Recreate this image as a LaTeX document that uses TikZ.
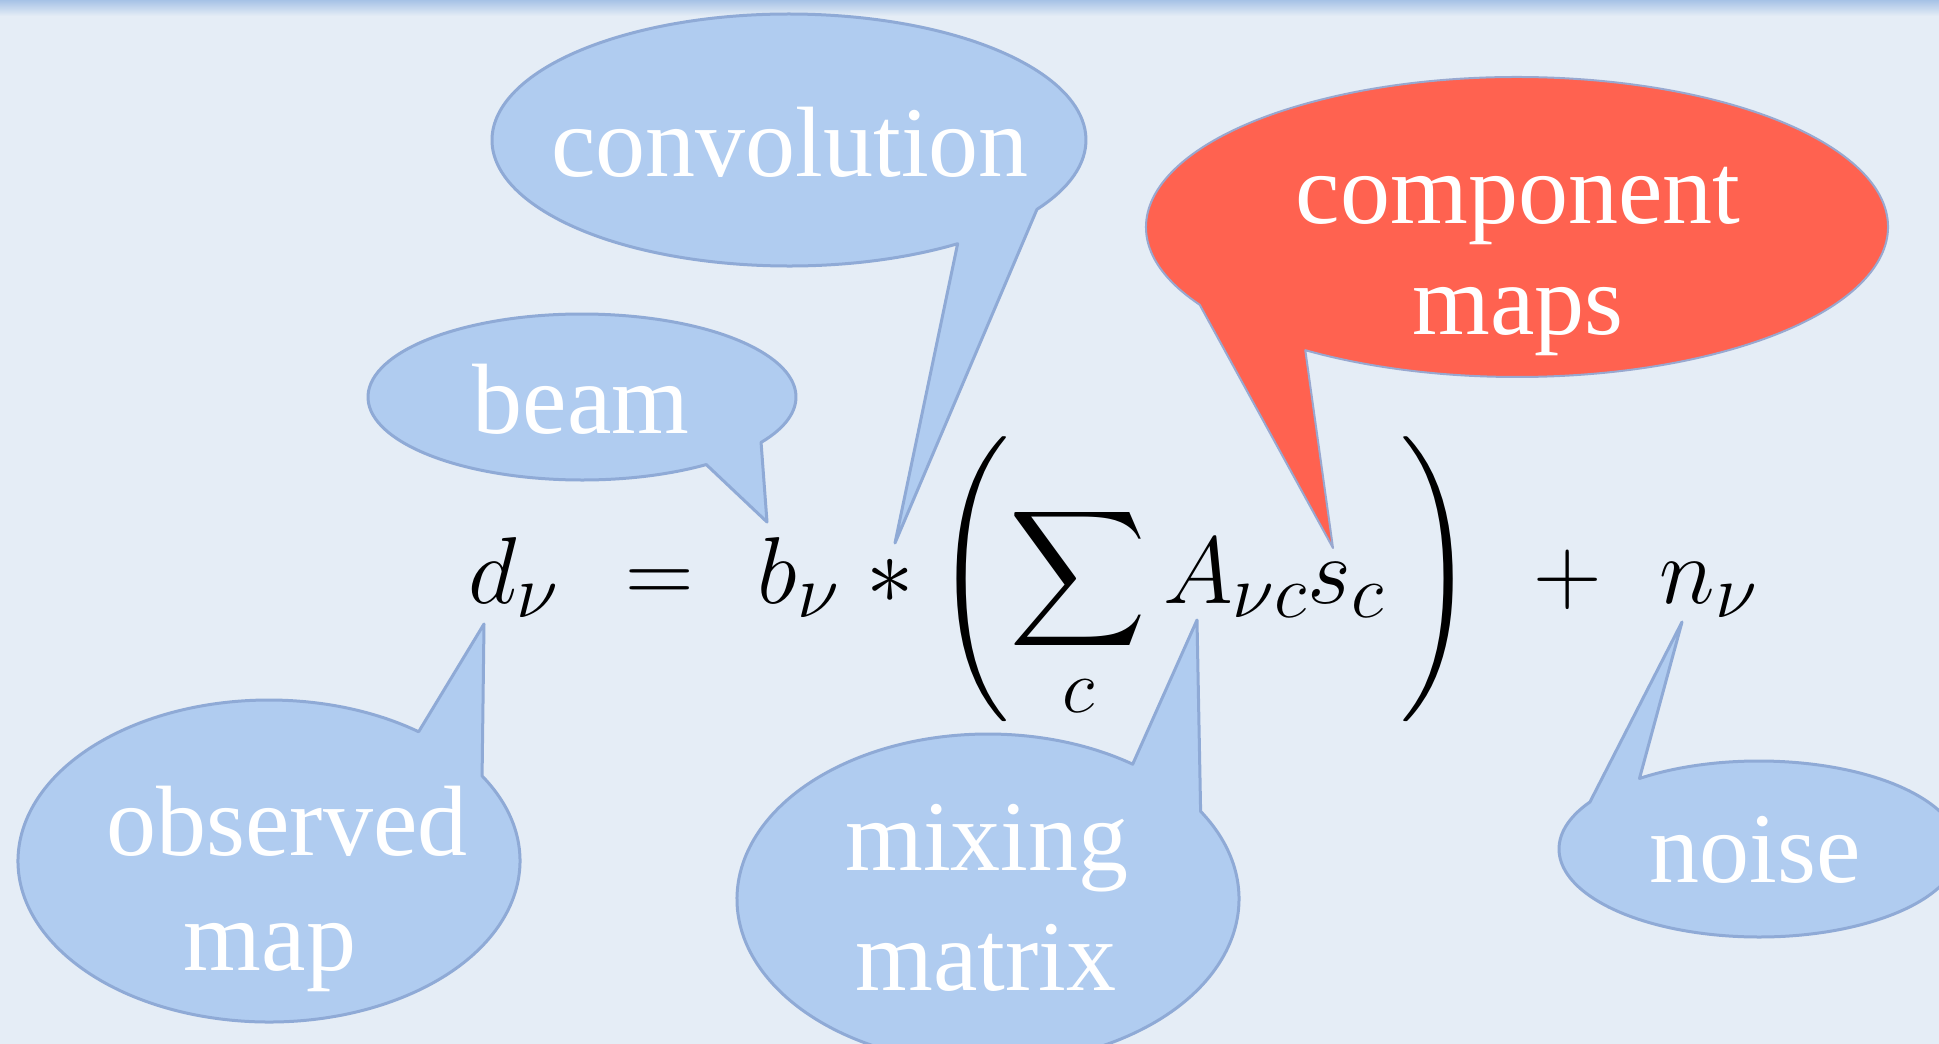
\RequirePackage{fix-cm}
\documentclass[tikz,border=0pt]{standalone}
\usepackage{fontspec}
\setmainfont{Liberation Serif}
\DeclareFontFamily{OMX}{cmex}{}
\DeclareFontShape{OMX}{cmex}{m}{n}{<->cmex10}{}
\DeclareMathSizes{47.5}{47.5}{38}{30}
\definecolor{bgpaper}{HTML}{E5EDF6}
\definecolor{bandblue}{HTML}{A6C2E6}
\definecolor{bubblefill}{HTML}{B0CCF0}
\definecolor{bubbleline}{HTML}{8FAAD6}
\definecolor{redfill}{HTML}{FF6250}
\definecolor{redline}{HTML}{98A8D0}
\newcommand\speechbubble[8]{%
  \path[#1] (#2,#3) ++(#6:#4 and #5)
    arc[start angle=#6, end angle=#7, x radius=#4, y radius=#5]
    -- (#8) -- cycle;}
\begin{document}
\begin{tikzpicture}[x=0.5pt,y=-0.5pt,
  bubble/.style={fill=bubblefill,draw=bubbleline,line width=1.5pt,line join=round},
  redbubble/.style={fill=redfill,draw=redline,line width=1pt,line join=round},
  lbl/.style={text=white,inner sep=0pt,anchor=base,font=\fontsize{50}{60}\selectfont},
  eq/.style={inner sep=0pt,anchor=base,font=\fontsize{47.5}{57}\selectfont}]
\useasboundingbox (0,0) rectangle (1939,1044);
\clip (0,0) rectangle (1939,1044);
\fill[bgpaper] (0,0) rectangle (1939,1044);
\fill[top color=bandblue,bottom color=bgpaper] (0,0) rectangle (1939,16);

% equation
\node[eq] (dnu) at (514,603) {$d_\nu$};
\node[eq] (eqs) at (660,603) {$=$};
\node[eq] (bnu) at (799,603) {$b_\nu$};
\node[eq] (conv) at (890,603) {$*$};
\node[eq] (sumgrp) at (1205,603) {$\left(\displaystyle\sum_c A_{\nu c}s_c\,\right)$};
\node[eq] (plus) at (1568,603) {$+$};
\node[eq] (nnu) at (1709,603) {$n_\nu$};

% tail tips
\coordinate (tipconv) at (895,543);
\coordinate (tipbeam) at (767,522);
\coordinate (tipcomp) at (1333,548);
\coordinate (tipobs) at (484,624);
\coordinate (tipmix) at (1197,620);
\coordinate (tipnoise) at (1682,622);

% bubbles
\speechbubble{bubble}{789}{140}{297}{126}{55.4}{393.4}{tipconv}
\speechbubble{bubble}{582}{397}{214}{83}{54.5}{393.2}{tipbeam}
\speechbubble{redbubble}{1517}{227}{371}{150}{148.8}{484.8}{tipcomp}
\speechbubble{bubble}{269}{861}{251}{161}{-31.9}{306.6}{tipobs}
\speechbubble{bubble}{988}{899}{251}{165}{-32.1}{305.2}{tipmix}
\speechbubble{bubble}{1759}{849}{200}{88}{233.3}{572.3}{tipnoise}

% labels
\node[lbl] (tconv) at (790,176) {convolution};
\node[lbl] (tbeam) at (581,433) {beam};
\node[lbl] (tcomp1) at (1518,223) {component};
\node[lbl] (tcomp2) at (1518,334) {maps};
\node[lbl] (tobs1) at (287,855) {observed};
\node[lbl] (tobs2) at (270,970) {map};
\node[lbl] (tmix1) at (987,870) {mixing};
\node[lbl] (tmix2) at (986,990) {matrix};
\node[lbl] (tnoise) at (1755,882) {noise};
\end{tikzpicture}
\end{document}
